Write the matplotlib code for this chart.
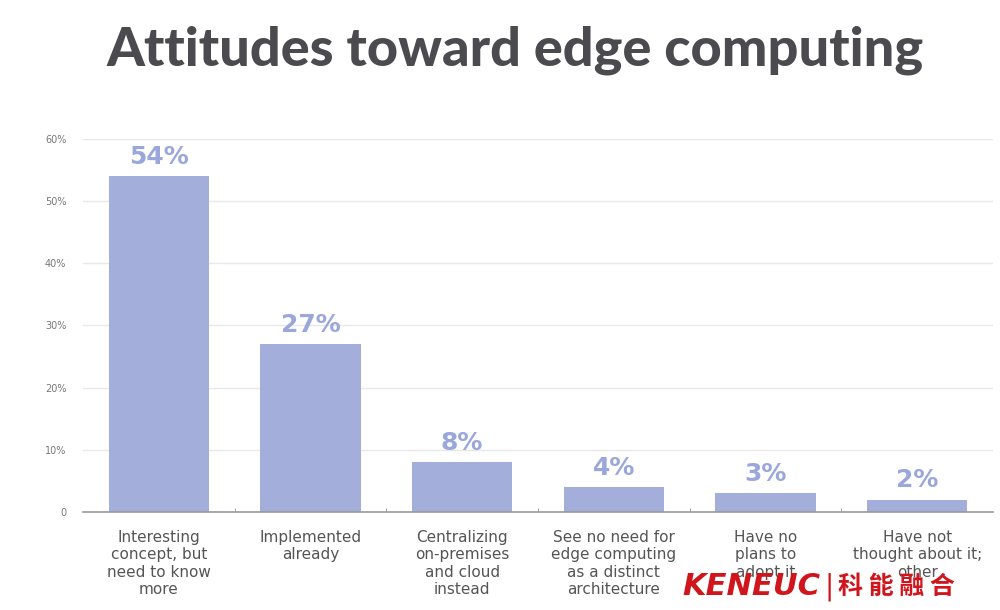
import matplotlib.pyplot as plt
import numpy as np

categories = ['Interesting\nconcept, but\nneed to know\nmore',
              'Implemented\nalready',
              'Centralizing\non-premises\nand cloud\ninstead',
              'See no need for\nedge computing\nas a distinct\narchitecture',
              'Have no\nplans to\nadopt it',
              'Have not\nthought about it;\nother']
values = [54, 27, 8, 4, 3, 2]
yticks = [0, 10, 20, 30, 40, 50, 60]
ytick_labels = ['0', '10%', '20%', '30%', '40%', '50%', '60%']

bar_color = '#a3aedb'
label_color = '#9aa7da'

fig = plt.figure(figsize=(10, 6.1), dpi=100)
ax = fig.add_axes([0.083, 0.1607, 0.91, 0.6114])

x = np.arange(len(values))
ax.bar(x, values, width=0.66, color=bar_color, zorder=2)
for xi, v in zip(x, values):
    ax.text(xi, v + 1.2, f'{v}%', ha='center', va='bottom', fontsize=18,
            fontweight='bold', color=label_color, clip_on=False)

ax.set_xlim(-0.5, len(values) - 0.5)
ax.set_ylim(0, 60)
ax.set_yticks(yticks)
ax.set_yticklabels(ytick_labels, fontsize=7, color='#777777')
ax.grid(axis='y', color='#e8e8e8', linewidth=1, zorder=0)
ax.tick_params(axis='y', length=0, pad=12)

ax.set_xticks(x)
ax.set_xticklabels(categories, fontsize=11, color='#555555', linespacing=1.2)
ax.tick_params(axis='x', length=0, pad=13)
ax.set_xticks(x[:-1] + 0.5, minor=True)
ax.tick_params(axis='x', which='minor', direction='in', length=3, color='#999999')

for s in ['top', 'right', 'left']:
    ax.spines[s].set_visible(False)
ax.spines['bottom'].set_color('#999999')
ax.spines['bottom'].set_linewidth(1.2)

fig.text(0.515, 0.918, 'Attitudes toward edge computing', ha='center', va='center',
         fontsize=39, fontweight='black', family=['Lato', 'DejaVu Sans'], color='#4a4a4f')

# watermark
fig.text(0.682, 0.038, 'KENEUC', fontsize=22, fontweight='bold', fontstyle='italic',
         color='#d0151c', va='center', ha='left')
fig.text(0.829, 0.038, '|', fontsize=20, color='#d0151c', va='center', ha='center')
fig.text(0.838, 0.038, '科 能 融 合', fontsize=18, fontweight='bold',
         family=['Noto Sans CJK SC', 'DejaVu Sans'], color='#d0151c', va='center', ha='left')

fig.savefig('out.png', dpi=100, facecolor='white')
